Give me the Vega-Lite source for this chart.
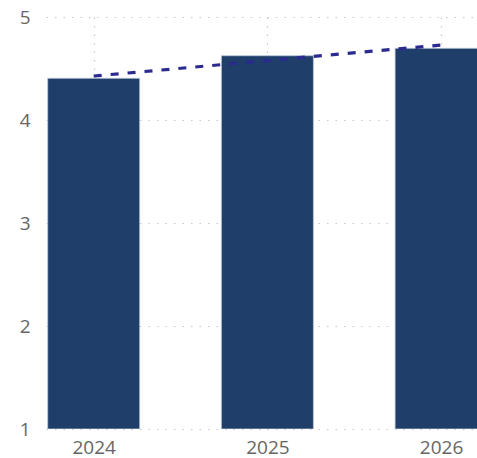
{
  "$schema": "https://vega.github.io/schema/vega-lite/v6.json",
  "autosize": "none",
  "width": 431,
  "height": 412,
  "padding": {"left": 46, "top": 17, "right": 0, "bottom": 29},
  "background": "white",
  "data": {
    "values": [
      {"year": 2024, "value": 4.405, "trend": 4.427},
      {"year": 2025, "value": 4.624, "trend": 4.577},
      {"year": 2026, "value": 4.696, "trend": 4.728}
    ]
  },
  "config": {
    "view": {"stroke": null},
    "axis": {
      "labelFont": "Open Sans",
      "labelFontSize": 19,
      "labelColor": "#666666",
      "domain": false,
      "ticks": false,
      "title": null,
      "gridColor": "#c8c8c8",
      "gridDash": [1.5, 7],
      "gridWidth": 1.2
    }
  },
  "encoding": {
    "x": {
      "field": "year",
      "type": "quantitative",
      "scale": {"domain": [2023.7254, 2026.2067], "nice": false, "zero": false, "padding": 0},
      "axis": {"values": [2024, 2025, 2026], "format": "d", "labelPadding": 9, "grid": true, "labelFlush": false}
    }
  },
  "layer": [
    {
      "mark": {"type": "bar", "size": 92, "color": "#1f3e6a", "stroke": "#b9c5d7", "strokeWidth": 0.8, "clip": true},
      "encoding": {
        "y": {
          "field": "value",
          "type": "quantitative",
          "scale": {"domain": [1, 5], "nice": false, "zero": false, "padding": 0},
          "axis": {"values": [1, 2, 3, 4, 5], "format": "d", "labelPadding": 16, "grid": true}
        },
        "y2": {"datum": 1}
      }
    },
    {
      "mark": {"type": "line", "color": "#2b2b8f", "strokeWidth": 3.2, "strokeDash": [8, 9], "clip": true},
      "encoding": {
        "y": {"field": "trend", "type": "quantitative"}
      }
    }
  ]
}
